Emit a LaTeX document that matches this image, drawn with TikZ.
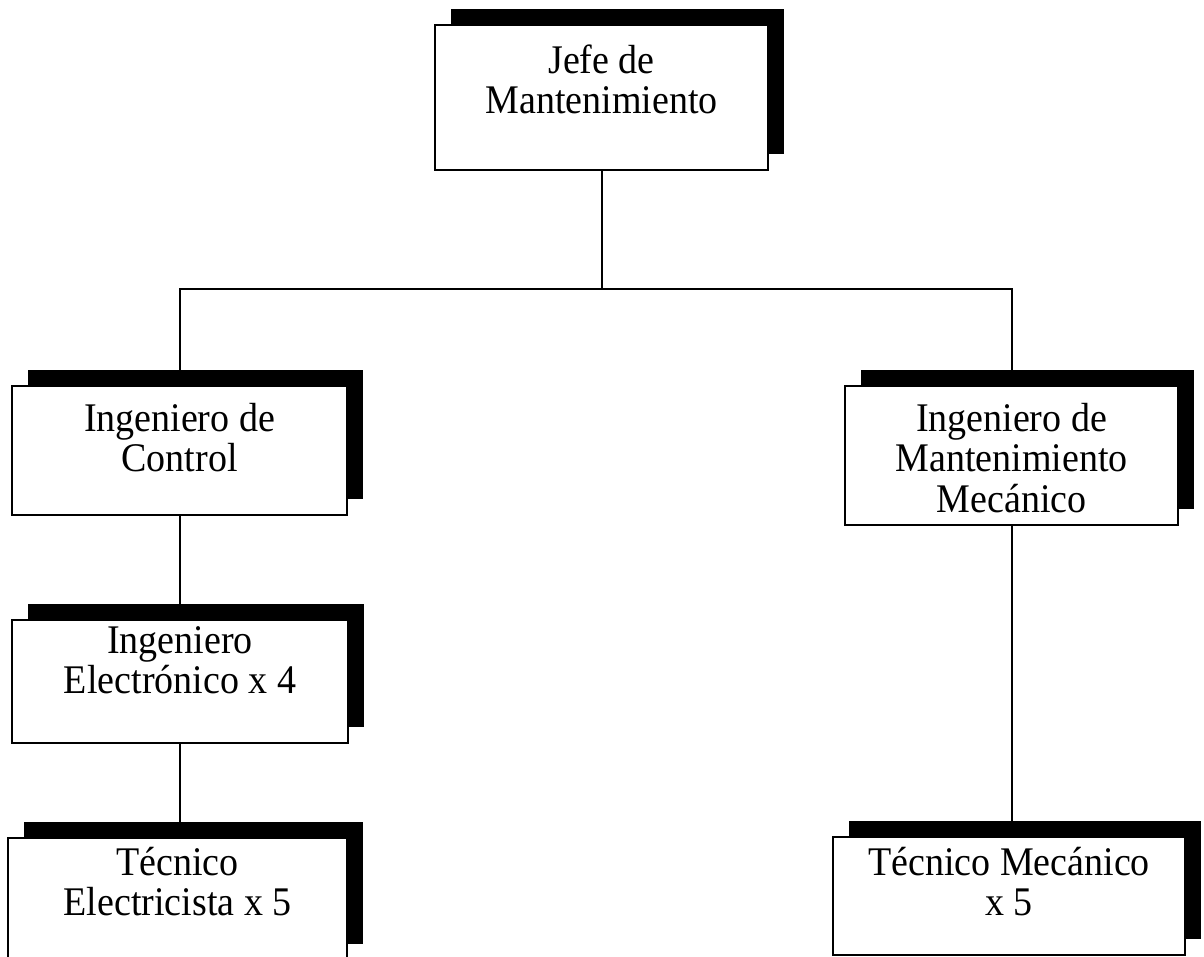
\documentclass[tikz,border=0pt]{standalone}
\usepackage{fontspec}
\setmainfont{Liberation Serif}
\usetikzlibrary{shadows,backgrounds}
\newcommand\orgtxt[1]{\scalebox{1}[1.07]{\begin{tabular}[t]{@{}c@{}}#1\end{tabular}}}
\tikzset{
  orgbox/.style={draw, line width=2.5pt, fill=white, inner sep=0pt,
    general shadow={fill=black, shadow xshift=16pt, shadow yshift=16pt}},
  lbl/.style={anchor=base, inner sep=0pt, font=\fontsize{38}{38}\selectfont},
  link/.style={line width=2pt}
}
\begin{document}
\begin{tikzpicture}[x=1pt,y=-1pt]
\useasboundingbox (0,0) rectangle (1204,956);
% boxes
\node[orgbox, minimum width=333pt, minimum height=145pt] (jefe) at (601.5,97.5) {};
\node[orgbox, minimum width=335pt, minimum height=129pt] (ctrl) at (179.5,450.5) {};
\node[orgbox, minimum width=333pt, minimum height=139pt] (mec) at (1011.5,455.5) {};
\node[orgbox, minimum width=336pt, minimum height=123pt] (elec) at (180,681.5) {};
\node[orgbox, minimum width=339pt, minimum height=122pt] (tecE) at (177.5,899) {};
\node[orgbox, minimum width=352pt, minimum height=118pt] (tecM) at (1009,896) {};
% labels
\node[lbl] (tjefe) at (601.5,73) {\orgtxt{Jefe de\\Mantenimiento}};
\node[lbl] (tctrl) at (179.5,431) {\orgtxt{Ingeniero de\\Control}};
\node[lbl] (tmec) at (1011.5,431) {\orgtxt{Ingeniero de\\Mantenimiento\\Mecánico}};
\node[lbl] (telec) at (180,653) {\orgtxt{Ingeniero\\Electrónico x 4}};
\node[lbl] (ttecE) at (177.5,875) {\orgtxt{Técnico\\Electricista x 5}};
\node[lbl] (ttecM) at (1009,875) {\orgtxt{Técnico Mecánico\\x 5}};
% connectors
\begin{pgfonlayer}{background}
\coordinate (bus) at (601.5,289);
\draw[link] (jefe.south) -- (bus);
\draw[link] (ctrl.north) |- (bus) -| (mec.north);
\draw[link] (ctrl.south) -- (ctrl.south |- elec.north);
\draw[link] (elec.south) -- (elec.south |- tecE.north);
\draw[link] (mec.south) -- (mec.south |- tecM.north);
\end{pgfonlayer}
\end{tikzpicture}
\end{document}
